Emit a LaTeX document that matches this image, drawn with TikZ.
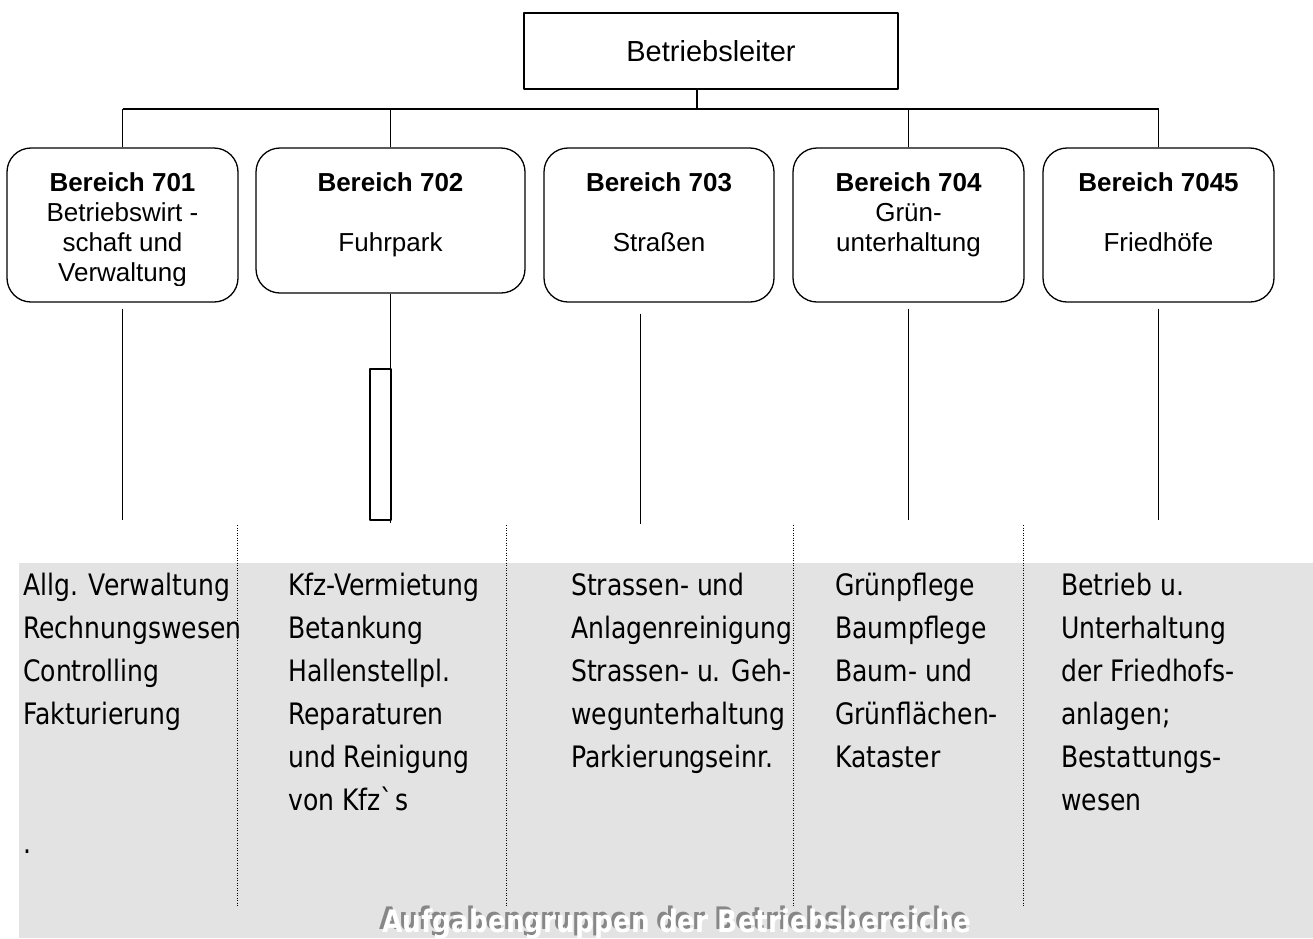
\documentclass[tikz,border=0pt]{standalone}
\usepackage{fontspec}
\setmainfont{Liberation Sans}
\newfontfamily\colfont[FakeStretch=0.85]{DejaVu Sans}
\newfontfamily\footfont[FakeStretch=0.85]{DejaVu Sans}
\definecolor{bandgray}{RGB}{227,227,227}
\definecolor{shadowgray}{RGB}{135,135,135}
\begin{document}
\begin{tikzpicture}[x=1pt,y=-1pt,line join=round,
  bereich/.style={draw,line width=1.3pt,rounded corners=24pt,inner sep=0pt},
  boxtext/.style={font=\fontsize{26}{30}\selectfont,align=center,anchor=north,inner sep=0pt},
  coltext/.style={font=\colfont\fontsize{29.5}{43}\selectfont,align=left,anchor=north west,inner sep=0pt},
  link/.style={line width=1.2pt},
  sep/.style={line width=0.9pt,dash pattern=on 0.9pt off 1.6pt}]
	\useasboundingbox (0,0) rectangle (1313,938);
	\fill[bandgray] (19,563) rectangle (1313,938);
	% Leitung und Bereiche
	\node[draw,line width=1.3pt,minimum width=374pt,minimum height=76pt,font=\fontsize{29}{34}\selectfont] (chef) at (711,51) {Betriebsleiter};
	\node[bereich,minimum width=231pt,minimum height=154pt] (b1) at (122.5,225) {};
	\node[bereich,minimum width=269pt,minimum height=145pt] (b2) at (390.5,220.5) {};
	\node[bereich,minimum width=230pt,minimum height=154pt] (b3) at (659,225) {};
	\node[bereich,minimum width=231pt,minimum height=154pt] (b4) at (908.5,225) {};
	\node[bereich,minimum width=231pt,minimum height=154pt] (b5) at (1158.5,225) {};
	\begin{scope}
		\clip (7,148) rectangle (238,285);
		\node[boxtext] (t1) at ([yshift=-25pt]b1.north) {\textbf{Bereich 701}\\Betriebswirt -\\schaft und\\Verwaltung};
	\end{scope}
	\node[boxtext] (t2) at ([yshift=-25pt]b2.north) {\textbf{Bereich 702}\\[30pt]Fuhrpark};
	\node[boxtext] (t3) at ([yshift=-25pt]b3.north) {\textbf{Bereich 703}\\[30pt]Straßen};
	\node[boxtext] (t4) at ([yshift=-25pt]b4.north) {\textbf{Bereich 704}\\Grün-\\unterhaltung};
	\node[boxtext] (t5) at ([yshift=-25pt]b5.north) {\textbf{Bereich 7045}\\[30pt]Friedhöfe};
	% Verbindungen oben
	\coordinate (barL) at (122.5,109);
	\coordinate (barR) at (1158.5,109);
	\draw[link] ([xshift=-14pt]chef.south) -- ([xshift=-14pt]chef.south |- barL);
	\draw[link] (barL) -- (barR);
	\foreach \b in {b1,b2,b4,b5}
		\draw[link] (\b.north |- barL) -- (\b.north);
	% Linien nach unten
	\coordinate (e1) at (122.5,520);
	\coordinate (e2) at (390.5,523);
	\coordinate (e3) at (640.5,524);
	\coordinate (e4) at (908.5,520);
	\coordinate (e5) at (1158.5,520);
	\draw[link] ([yshift=-6pt]b1.south) -- (e1);
	\draw[link] (b2.south) -- (e2);
	\draw[link] ([xshift=-18.5pt,yshift=-11pt]b3.south) -- (e3);
	\draw[link] ([yshift=-6pt]b4.south) -- (e4);
	\draw[link] ([yshift=-6pt]b5.south) -- (e5);
	\node[draw,line width=1.5pt,minimum width=21pt,minimum height=151pt,inner sep=0pt] (kfzbox) at (380.5,444.5) {};
	% Aufgabengruppen
	\node[coltext] (aufg1) at (23,573) {Allg. Verwaltung\\Rechnungswesen\\Controlling\\Fakturierung\\[86pt].};
	\node[coltext] (aufg2) at (288,573) {Kfz-Vermietung\\Betankung\\Hallenstellpl.\\Reparaturen\\und Reinigung\\von Kfz\textasciigrave s};
	\node[coltext] (aufg3) at (571,573) {Strassen- und\\Anlagenreinigung\\Strassen- u. Geh-\\wegunterhaltung\\Parkierungseinr.};
	\node[coltext] (aufg4) at (835,573) {Grünpflege\\Baumpflege\\Baum- und\\Grünflächen-\\Kataster};
	\node[coltext] (aufg5) at (1061,573) {Betrieb u.\\Unterhaltung\\der Friedhofs-\\anlagen;\\Bestattungs-\\wesen};
	\foreach \x in {237,506,793,1023}
		\draw[sep] (\x,525) -- (\x,907);
	\node[font=\footfont\bfseries\fontsize{31}{36}\selectfont,text=white] (titel) at (677,923)
		{\makebox[0pt][l]{\hspace*{-3pt}\raisebox{3pt}{\textcolor{shadowgray}{Aufgabengruppen der Betriebsbereiche}}}Aufgabengruppen der Betriebsbereiche};
\end{tikzpicture}
\end{document}
